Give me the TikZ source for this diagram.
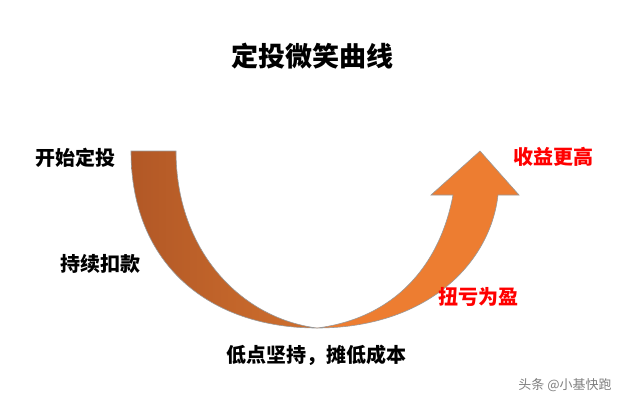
\documentclass[tikz,border=0pt]{standalone}
\usepackage{fontspec}
\setmainfont{Noto Sans CJK SC}
\definecolor{bandA}{RGB}{178,88,38}
\definecolor{bandB}{RGB}{208,112,46}
\definecolor{arrowC}{RGB}{237,125,49}
\begin{document}
\begin{tikzpicture}[x=1pt,y=-1pt,
  lbl/.style={font=\fontsize{20}{24}\selectfont\bfseries, text=black},
  red lbl/.style={lbl, text=red},
  band/.style={draw=gray!80, line width=0.6pt}]
\useasboundingbox[fill=white] (0,0) rectangle (636,405);
\node (title) at (312,56) {\fontsize{27}{30}\selectfont\bfseries 定投微笑曲线};
% left band
\path[band, left color=bandA, right color=bandB]
  (131,151) -- (176,151) .. controls (176,250) and (240,318) .. (317,328)
  .. controls (210,328) and (131,265) .. (131,151) -- cycle;
% right arrow
\path[band, fill=arrowC]
  (317,328) .. controls (425,328) and (490,265) .. (498,195) -- (519,195) -- (480,151)
  -- (431,195) -- (453,195) .. controls (440,265) and (395,318) .. (317,328) -- cycle;
\node[lbl] (a) at (75,158) {开始定投};
\node[lbl] (b) at (100,264) {持续扣款};
\node[lbl] (c) at (316,355) {低点坚持，摊低成本};
\node[red lbl] (d) at (478,297) {扭亏为盈};
\node[red lbl] (e) at (553,157) {收益更高};
\node[text=gray, font=\fontsize{13}{15}\selectfont] (w) at (565,385) {头条 @小基快跑};
\end{tikzpicture}
\end{document}
